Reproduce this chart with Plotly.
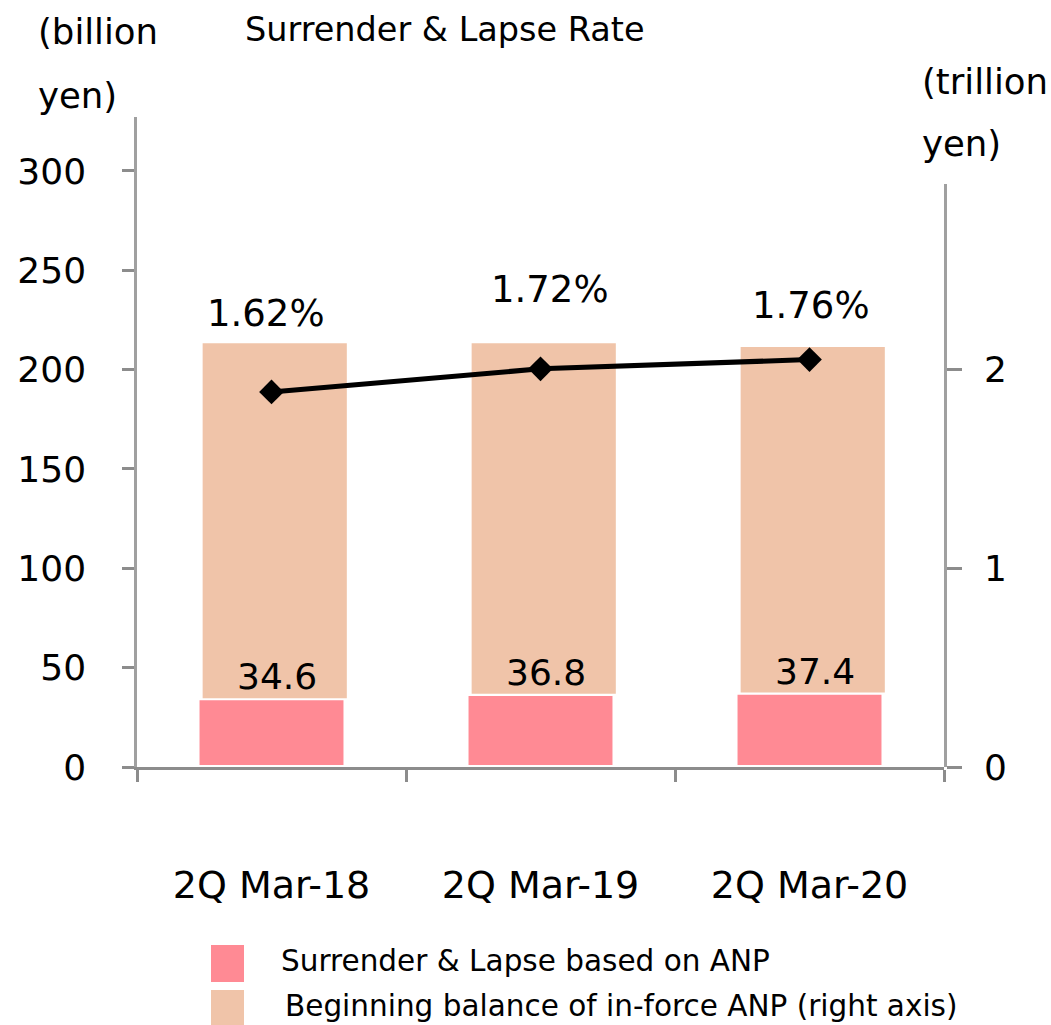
import plotly.graph_objects as go

# ---------------- data ----------------
categories = ["2Q Mar-18", "2Q Mar-19", "2Q Mar-20"]
surrender_lapse = [34.6, 36.8, 37.4]      # billion yen (left axis)
inforce_anp = [2.13, 2.13, 2.11]          # trillion yen (right axis)
lapse_rate = [1.62, 1.72, 1.76]           # %
left_ticks = [0, 50, 100, 150, 200, 250, 300]
right_ticks = [0, 1, 2]

# label placement tweaks (pixels) for the rate labels
rate_label_dy = [78, 79, 54]
rate_label_dx = [-6, 9, 1]

PINK = "#FF8A94"
PEACH = "#F0C4A9"
AXIS = "#A0A0A0"
TICK = "#8C8C8C"
FONT = "DejaVu Sans"

W, H = 1051, 1025
L, R, T, B = 137, 107, 117, 258
PH = H - T - B
PW = W - L - R

# peach bars sit on top of the pink bars (billion -> trillion: /100)
peach_base = [v / 100 for v in surrender_lapse]
peach_len = [b - s for b, s in zip(inforce_anp, peach_base)]

fig = go.Figure()

fig.add_trace(go.Bar(
    x=categories, y=surrender_lapse, yaxis="y", xaxis="x",
    width=0.55, marker=dict(color=PINK, line=dict(color="white", width=4)),
    name="Surrender & Lapse based on ANP", showlegend=False,
))

fig.add_trace(go.Bar(
    x=categories, y=peach_len, base=peach_base, yaxis="y2", xaxis="x",
    width=0.536, offset=-0.256, marker=dict(color=PEACH, line=dict(width=0)),
    name="Beginning balance of in-force ANP (right axis)", showlegend=False,
))

fig.add_trace(go.Scatter(
    x=categories, y=lapse_rate, yaxis="y3", xaxis="x",
    mode="lines+markers", line=dict(color="black", width=5),
    marker=dict(symbol="diamond", size=19, color="black"),
    showlegend=False,
))

y2_top_px = 184
y2_dom = (H - B - y2_top_px) / PH

annotations = []
# pink value labels
for c, v in zip(categories, surrender_lapse):
    annotations.append(dict(
        x=c, y=v, xref="x", yref="y", text=f"{v:.1f}", showarrow=False,
        yanchor="bottom", xanchor="center", xshift=5, yshift=-1,
        font=dict(family=FONT, size=36, color="black"),
    ))
# rate labels
for c, r, dy, dx in zip(categories, lapse_rate, rate_label_dy, rate_label_dx):
    annotations.append(dict(
        x=c, y=r, xref="x", yref="y3", text=f"{r:.2f}%", showarrow=False,
        yanchor="middle", xanchor="center", xshift=dx, yshift=dy,
        font=dict(family=FONT, size=37, color="black"),
    ))

def px_x(px):
    return (px - L) / PW

def px_y(py):
    return (H - B - py) / PH

annotations += [
    dict(x=px_x(243), y=px_y(30), xref="paper", yref="paper", text="Surrender & Lapse Rate",
         showarrow=False, xanchor="left", yanchor="middle", font=dict(family=FONT, size=33.5, color="black")),
    dict(x=px_x(36), y=px_y(31), xref="paper", yref="paper", text="(billion",
         showarrow=False, xanchor="left", yanchor="middle", font=dict(family=FONT, size=35.5, color="black")),
    dict(x=px_x(36), y=px_y(95), xref="paper", yref="paper", text="yen)",
         showarrow=False, xanchor="left", yanchor="middle", font=dict(family=FONT, size=35.5, color="black")),
    dict(x=px_x(920), y=px_y(82), xref="paper", yref="paper", text="(trillion",
         showarrow=False, xanchor="left", yanchor="middle", font=dict(family=FONT, size=35.5, color="black")),
    dict(x=px_x(920), y=px_y(143), xref="paper", yref="paper", text="yen)",
         showarrow=False, xanchor="left", yanchor="middle", font=dict(family=FONT, size=35.5, color="black")),
    dict(x=px_x(279), y=px_y(961), xref="paper", yref="paper", text="Surrender & Lapse based on ANP",
         showarrow=False, xanchor="left", yanchor="middle", font=dict(family=FONT, size=29.5, color="black")),
    dict(x=px_x(283), y=px_y(1006), xref="paper", yref="paper", text="Beginning balance of in-force ANP (right axis)",
         showarrow=False, xanchor="left", yanchor="middle", font=dict(family=FONT, size=29.5, color="black")),
]

shapes = [
    dict(type="rect", xref="paper", yref="paper", x0=px_x(211), x1=px_x(244),
         y0=px_y(982), y1=px_y(945), fillcolor=PINK, line=dict(width=0)),
    dict(type="rect", xref="paper", yref="paper", x0=px_x(211), x1=px_x(244),
         y0=px_y(1026), y1=px_y(990), fillcolor=PEACH, line=dict(width=0)),
]

fig.update_layout(
    width=W, height=H,
    margin=dict(l=L, r=R, t=T, b=B, autoexpand=False),
    paper_bgcolor="white", plot_bgcolor="rgba(0,0,0,0)",
    barmode="overlay",
    showlegend=False,
    font=dict(family=FONT, color="black"),
    xaxis=dict(
        type="category", range=[-0.5, 2.5], domain=[0, 1], anchor="y",
        tickson="boundaries", ticks="outside", ticklen=12, tickwidth=2.5, tickcolor=TICK,
        showline=True, linecolor=TICK, linewidth=3, showgrid=False, zeroline=False,
        tickfont=dict(family=FONT, size=38, color="black"), ticklabelstandoff=82,
    ),
    yaxis=dict(
        domain=[0, 1], range=[0, PH / 1.987], anchor="x",
        tickvals=left_ticks, ticks="outside", ticklen=12, tickwidth=2.5, tickcolor=TICK,
        showline=True, linecolor=AXIS, linewidth=2.5, showgrid=False, zeroline=False,
        tickfont=dict(family=FONT, size=36, color="black"), ticklabelstandoff=29,
    ),
    yaxis2=dict(
        domain=[0, y2_dom], range=[0, (H - B - y2_top_px) / 199.0], anchor="x", side="right",
        tickvals=right_ticks, ticks="outside", ticklen=15, tickwidth=2.5, tickcolor=TICK,
        showline=True, linecolor=AXIS, linewidth=2.5, showgrid=False, zeroline=False,
        tickfont=dict(family=FONT, size=36, color="black"), ticklabelstandoff=15,
    ),
    yaxis3=dict(
        overlaying="y2", range=[0, (H - B - y2_top_px) / 231.5], visible=False,
        showgrid=False, zeroline=False,
    ),
    annotations=annotations,
    shapes=shapes,
)

fig.write_html(
    "out.html",
    config={"displayModeBar": False},
    post_script="document.body.style.margin='0';document.body.style.overflow='hidden';",
)
